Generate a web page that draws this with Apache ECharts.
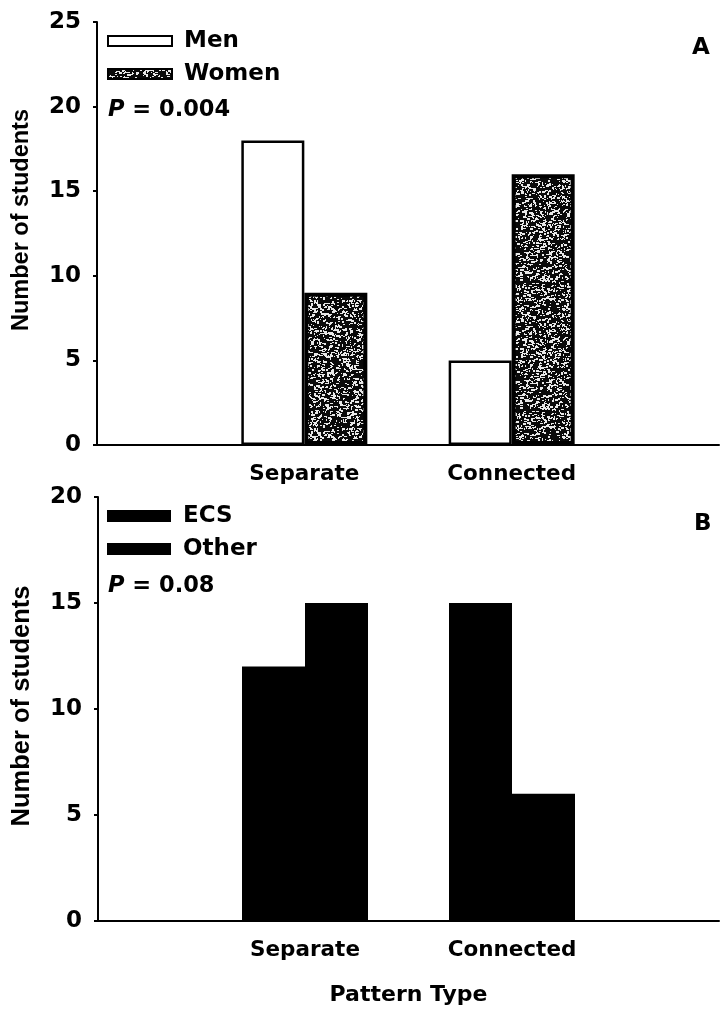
<!DOCTYPE html>
<html>
<head>
<meta charset="utf-8">
<title>Number of students by pattern type</title>
<script src="https://cdn.jsdelivr.net/npm/echarts@6/dist/echarts.min.js"></script>
<style>
  html, body { margin: 0; padding: 0; background: #fff; }
  #chart { width: 722px; height: 1011px; }
</style>
</head>
<body>
<div id="chart"></div>
<script>
// Pattern types on the x axis
const categories = ['Separate', 'Connected'];

// Panel A: by gender
const menCounts = [18, 5];
const womenCounts = [9, 16];
const pValueA = '0.004';

// Panel B: by major
const ecsCounts = [12, 15];
const otherCounts = [15, 6];
const pValueB = '0.08';

// Value axis settings
const yMaxA = 25;
const yMaxB = 20;
const yStep = 5;

// The category axis has an empty slot at each end so the two groups sit
// at the inner ticks and the baseline runs out to the right edge.
const xData = [''].concat(categories, ['']);
const pad = arr => [null].concat(arr, [null]);

// Coarse speckled dark fill used for the "Women" bars
function speckleCanvas() {
  const size = 128;
  const c = document.createElement('canvas');
  c.width = size; c.height = size;
  const ctx = c.getContext('2d');
  ctx.fillStyle = '#0a0a0a';
  ctx.fillRect(0, 0, size, size);
  const hash = i => { const v = Math.sin(i * 12.9898 + 78.233) * 43758.5453; return v - Math.floor(v); };
  let k = 1;
  ctx.fillStyle = '#e8e8e8';
  for (let n = 0; n < 2600; n++) {
    const x = Math.floor(hash(k++) * size);
    const y = Math.floor(hash(k++) * size);
    const w = 1 + Math.floor(hash(k++) * 2.6);
    const h = 1 + Math.floor(hash(k++) * 1.8);
    ctx.fillRect(x, y, w, h);
  }
  ctx.fillStyle = '#0a0a0a';
  for (let n = 0; n < 900; n++) {
    const x = Math.floor(hash(k++) * size);
    const y = Math.floor(hash(k++) * size);
    ctx.fillRect(x, y, 1 + Math.floor(hash(k++) * 2), 1);
  }
  return c;
}
const womenFill = { image: speckleCanvas(), repeat: 'repeat' };

const FONT = 'DejaVu Sans';
const TITLE_FONT = 'Liberation Sans';

function yAxis(gridIndex, max, nameSize, namePad) {
  return {
    type: 'value', gridIndex: gridIndex, min: 0, max: max, interval: yStep,
    name: 'Number of students', nameLocation: 'middle', nameGap: 63,
    nameTextStyle: { fontFamily: TITLE_FONT, fontWeight: 'bold', fontSize: nameSize, color: '#000', padding: namePad },
    axisLine: { show: true, lineStyle: { color: '#000', width: 2 } },
    axisTick: { show: true, inside: false, length: 4, lineStyle: { color: '#000', width: 2 } },
    axisLabel: { margin: 16, fontFamily: FONT, fontWeight: 'bold', fontSize: 23, color: '#000' },
    splitLine: { show: false }
  };
}

function xAxis(gridIndex, withName) {
  const ax = {
    type: 'category', gridIndex: gridIndex, data: xData, boundaryGap: false,
    axisLine: { show: true, onZero: false, lineStyle: { color: '#000', width: 2 } },
    axisTick: { show: false },
    axisLabel: { margin: 18, fontFamily: FONT, fontWeight: 'bold', fontSize: 21.5, color: '#000', interval: 0 },
    splitLine: { show: false }
  };
  if (withName) {
    ax.name = 'Pattern Type';
    ax.nameLocation = 'middle';
    ax.nameGap = 63;
    ax.nameTextStyle = { fontFamily: FONT, fontWeight: 'bold', fontSize: 22, color: '#000' };
  }
  return ax;
}

function legend(names, top, iconH) {
  return {
    data: names, orient: 'vertical', left: 107, top: top, padding: 0,
    icon: 'rect', itemWidth: 64, itemHeight: iconH, itemGap: 9,
    textStyle: { fontFamily: FONT, fontWeight: 'bold', fontSize: 23, color: '#000', lineHeight: 24, padding: [0, 0, 0, 7] },
    selectedMode: false
  };
}

function pLabel(value, top) {
  return {
    text: '{i|P} = ' + value, left: 108, top: top, padding: 0,
    textStyle: {
      fontFamily: FONT, fontWeight: 'bold', fontSize: 22.5, color: '#000', lineHeight: 24,
      rich: { i: { fontFamily: FONT, fontStyle: 'italic', fontWeight: 'bold', fontSize: 22.5, color: '#000' } }
    }
  };
}

function panelTag(tag, left, top) {
  return { text: tag, left: left, top: top, padding: 0,
    textStyle: { fontFamily: FONT, fontWeight: 'bold', fontSize: 23, color: '#000', lineHeight: 24 } };
}

const chart = echarts.init(document.getElementById('chart'), null, { renderer: 'canvas' });
chart.setOption({
  backgroundColor: '#fff',
  animation: false,
  title: [
    pLabel(pValueA, 98),
    pLabel(pValueB, 574),
    panelTag('A', 692, 36),
    panelTag('B', 694, 512)
  ],
  legend: [
    legend(['Men', 'Women'], 29, 10),
    legend(['ECS', 'Other'], 504, 12)
  ],
  grid: [
    { left: 97, top: 22, right: 0, bottom: 566, containLabel: false },
    { left: 98, top: 497, right: 0, bottom: 90, containLabel: false }
  ],
  xAxis: [xAxis(0, false), xAxis(1, true)],
  yAxis: [
    yAxis(0, yMaxA, 23.5, [0, 0, 0, 27]),
    yAxis(1, yMaxB, 25.5, [0, 0, 0, 6])
  ],
  series: [
    {
      name: 'Men', type: 'bar', xAxisIndex: 0, yAxisIndex: 0, data: pad(menCounts),
      barWidth: 63, barGap: '0%',
      itemStyle: { color: '#fff', borderColor: '#000', borderWidth: 2.5 }
    },
    {
      name: 'Women', type: 'bar', xAxisIndex: 0, yAxisIndex: 0, data: pad(womenCounts),
      barWidth: 63, barGap: '0%',
      itemStyle: { color: womenFill, borderColor: '#000', borderWidth: 4 }
    },
    {
      name: 'ECS', type: 'bar', xAxisIndex: 1, yAxisIndex: 1, data: pad(ecsCounts),
      barWidth: 63, barGap: '0%',
      itemStyle: { color: '#000' }
    },
    {
      name: 'Other', type: 'bar', xAxisIndex: 1, yAxisIndex: 1, data: pad(otherCounts),
      barWidth: 63, barGap: '0%',
      itemStyle: { color: '#000' }
    }
  ]
});
</script>
</body>
</html>
